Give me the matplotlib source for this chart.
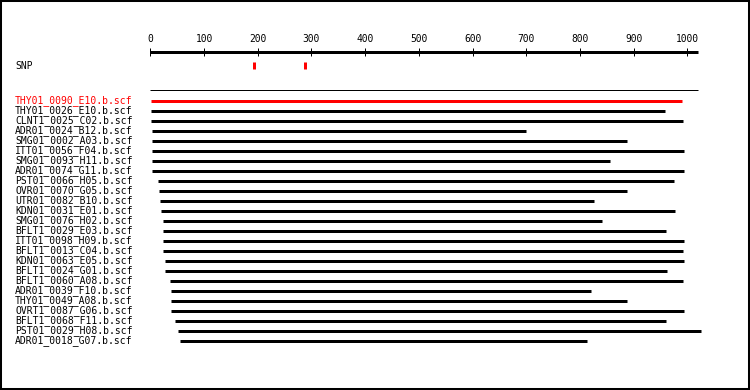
import matplotlib
matplotlib.use("Agg")
import matplotlib.pyplot as plt
from matplotlib.patches import Rectangle
import matplotlib.transforms as mtransforms

names = [
    "THY01_0090_E10.b.scf", "THY01_0026_E10.b.scf", "CLNT1_0025_C02.b.scf",
    "ADR01_0024_B12.b.scf", "SMG01_0002_A03.b.scf", "ITT01_0056_F04.b.scf",
    "SMG01_0093_H11.b.scf", "ADR01_0074_G11.b.scf", "PST01_0066_H05.b.scf",
    "OVR01_0070_G05.b.scf", "UTR01_0082_B10.b.scf", "KDN01_0031_E01.b.scf",
    "SMG01_0076_H02.b.scf", "BFLT1_0029_E03.b.scf", "ITT01_0098_H09.b.scf",
    "BFLT1_0013_C04.b.scf", "KDN01_0063_E05.b.scf", "BFLT1_0024_G01.b.scf",
    "BFLT1_0060_A08.b.scf", "ADR01_0039_F10.b.scf", "THY01_0049_A08.b.scf",
    "OVRT1_0087_G06.b.scf", "BFLT1_0068_F11.b.scf", "PST01_0029_H08.b.scf",
    "ADR01_0018_G07.b.scf",
]
starts = [1, 1, 1, 3, 3, 3, 3, 3, 14, 16, 18, 20, 24, 24, 24, 24, 27, 27,
          37, 39, 39, 39, 46, 52, 55]
ends = [990, 958, 992, 700, 888, 994, 856, 994, 975, 888, 826, 977, 841,
        960, 994, 992, 994, 962, 992, 820, 888, 994, 960, 1025, 813]
highlight = 0
snp_positions = [194, 289]
ruler_ticks = [0, 100, 200, 300, 400, 500, 600, 700, 800, 900, 1000]
ruler_end = 1019

W, H = 750, 390
fig = plt.figure(figsize=(W / 100, H / 100), dpi=100)
ax = fig.add_axes([0, 0, 1, 1])
ax.set_axis_off()

px_per_unit = 0.537
x0_px = 150.3
ax.set_xlim(-x0_px / px_per_unit, (W - x0_px) / px_per_unit)
row0_px = 101
ax.set_ylim((H - row0_px) / 10.0, -row0_px / 10.0)

mono = "DejaVu Sans Mono"
lw3 = 3 * 72 / 100
lw1 = 1 * 72 / 100

# ruler
ax.hlines(-4.95, 0, ruler_end, color="black", lw=lw3, capstyle="butt")
ax.vlines(ruler_ticks, -5.35, -4.53, color="black", lw=lw1)
for t in ruler_ticks:
    ax.text(t, -5.9, str(t), ha="center", va="baseline", family=mono,
            fontsize=6.9, color="black")

# SNP row
label_tr = mtransforms.blended_transform_factory(fig.transFigure, ax.transData)
ax.text(15 / W, -3.23, "SNP", transform=label_tr, ha="left", va="baseline",
        family=mono, fontsize=7.0, color="black")
ax.vlines(snp_positions, -3.93, -3.23, color="red", lw=lw3)

# separator
ax.hlines(-1.07, 0, ruler_end, color="black", lw=lw1)

# reads
for i, (n, s, e) in enumerate(zip(names, starts, ends)):
    col = "red" if i == highlight else "black"
    ax.hlines(i, s, e, color=col, lw=lw3, capstyle="butt")
    ax.text(15 / W, i + 0.18, n, transform=label_tr, ha="left", va="baseline",
            family=mono, fontsize=7.05, color=col)

# frame
fig.patches.append(Rectangle((0, 0), 1, 1, transform=fig.transFigure,
                             fill=False, edgecolor="black", lw=2.9))

fig.savefig("out.png", dpi=100)
